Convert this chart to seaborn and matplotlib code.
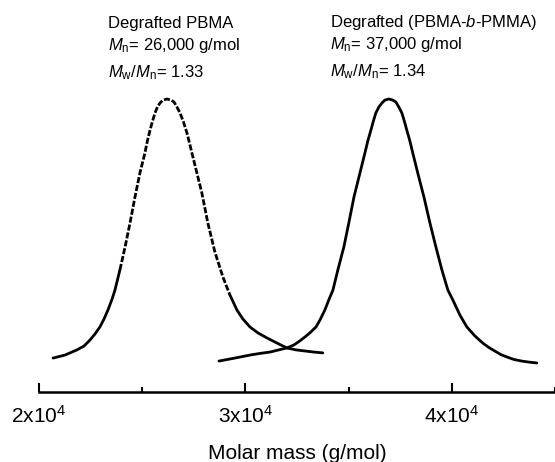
import matplotlib
matplotlib.use("Agg")
import matplotlib.pyplot as plt
import numpy as np
import pandas as pd
import seaborn as sns

# ---- data (molar mass in g/mol, normalised detector response) ----
pbma_mass = [20680, 21260, 21840, 22180, 22470, 22710, 22950, 23150, 23340, 23540,
             23680, 23920, 24170, 24410, 24650, 24890, 25130, 25250, 25380, 25500,
             25620, 25740, 25860, 26010, 26200, 26390, 26540, 26680, 26830, 27000,
             27170, 27290, 27410, 27650, 27890, 28180, 28520, 28910, 29250, 29590,
             29880, 30220, 30610, 31040, 31530, 32010, 32450, 32880, 33320, 33750]
pbma_signal = [0.051, 0.062, 0.081, 0.095, 0.117, 0.139, 0.165, 0.194, 0.227, 0.267,
               0.300, 0.374, 0.458, 0.546, 0.641, 0.729, 0.802, 0.846, 0.886, 0.919,
               0.949, 0.971, 0.985, 0.996, 1.000, 0.996, 0.989, 0.971, 0.949, 0.916,
               0.875, 0.839, 0.802, 0.729, 0.656, 0.546, 0.440, 0.348, 0.282, 0.227,
               0.194, 0.165, 0.143, 0.125, 0.106, 0.088, 0.081, 0.077, 0.073, 0.070]

block_mass = [28720, 29490, 30220, 30700, 31190, 31620, 32010, 32350, 32640, 32880,
              33120, 33420, 33610, 33850, 34040, 34240, 34480, 34770, 35010, 35260,
              35550, 35790, 35930, 36080, 36200, 36320, 36470, 36610, 36760, 36950,
              37140, 37290, 37430, 37580, 37700, 37820, 37970, 38110, 38350, 38650,
              38940, 39230, 39520, 39810, 40050, 40390, 40730, 41120, 41500, 41790,
              42080, 42370, 42670, 43000, 43390, 43760, 44120]
block_signal = [0.040, 0.051, 0.062, 0.068, 0.073, 0.081, 0.088, 0.099, 0.114, 0.128,
                0.143, 0.165, 0.190, 0.227, 0.264, 0.300, 0.374, 0.458, 0.546, 0.641,
                0.729, 0.802, 0.846, 0.886, 0.919, 0.949, 0.971, 0.985, 0.996, 1.000,
                0.996, 0.989, 0.971, 0.949, 0.919, 0.886, 0.846, 0.802, 0.729, 0.641,
                0.546, 0.458, 0.374, 0.300, 0.264, 0.209, 0.165, 0.132, 0.106, 0.090,
                0.077, 0.064, 0.055, 0.046, 0.040, 0.036, 0.033]

major_ticks = [20000, 30000, 40000]
minor_ticks = [25000, 35000, 45000]
tick_labels = [r"2x10$^{4}$", r"3x10$^{4}$", r"4x10$^{4}$"]
x_label = "Molar mass (g/mol)"

left_title = "Degrafted PBMA"
left_mn = r"$M_{\mathrm{n}}$= 26,000 g/mol"
left_pdi = r"$M_{\mathrm{w}}/M_{\mathrm{n}}$= 1.33"
right_title = r"Degrafted (PBMA-$b$-PMMA)"
right_mn = r"$M_{\mathrm{n}}$= 37,000 g/mol"
right_pdi = r"$M_{\mathrm{w}}/M_{\mathrm{n}}$= 1.34"

# ---- style ----
sns.set_style("white")
plt.rcParams["font.family"] = ["Liberation Sans", "DejaVu Sans"]
plt.rcParams["mathtext.fontset"] = "custom"
plt.rcParams["mathtext.rm"] = "Liberation Sans"
plt.rcParams["mathtext.it"] = "Liberation Sans:italic"
plt.rcParams["mathtext.bf"] = "Liberation Sans:bold"

W, H = 555, 462
fig = plt.figure(figsize=(W / 100, H / 100), dpi=100)
ax = fig.add_axes([39 / W, 70 / H, 516 / W, 312 / H])

pbma = pd.DataFrame({"mass": pbma_mass, "signal": pbma_signal})
block = pd.DataFrame({"mass": block_mass, "signal": block_signal})

lw = 2.0
dash = (0, (2.2, 0.7))
d0, d1 = 11, 38  # portion of the PBMA trace that appears dashed in the figure
common = dict(x="mass", y="signal", ax=ax, color="black", lw=lw, sort=False,
              estimator=None)
sns.lineplot(data=pbma.iloc[:d0 + 1], solid_capstyle="round", **common)
sns.lineplot(data=pbma.iloc[d0:d1 + 1], linestyle=dash, **common)
sns.lineplot(data=pbma.iloc[d1:], solid_capstyle="round", **common)
sns.lineplot(data=block, solid_capstyle="round", **common)

ax.set_xlim(20000, 45000)
ax.set_ylim(-0.0733, 1.0696)
ax.set_yticks([])
ax.set_ylabel("")
for s in ["top", "left", "right"]:
    ax.spines[s].set_visible(False)
ax.spines["bottom"].set_color("black")
ax.spines["bottom"].set_linewidth(1.8)

ax.set_xticks(major_ticks)
ax.set_xticklabels(tick_labels)
ax.set_xticks(minor_ticks, minor=True)
ax.tick_params(axis="x", which="major", bottom=True, direction="in", length=6.5,
               width=1.5, colors="black", pad=9, labelsize=15)
ax.tick_params(axis="x", which="minor", bottom=True, direction="in", length=3.5,
               width=1.5, colors="black")
ax.set_xlabel(x_label, fontsize=15, labelpad=13, color="black")

def ftext(px, py, s):
    fig.text(px / W, 1 - py / H, s, fontsize=12, va="baseline", ha="left", color="black")

ftext(108, 28, left_title)
ftext(108, 50, left_mn)
ftext(108, 77, left_pdi)
ftext(330, 27, right_title)
ftext(330, 49, right_mn)
ftext(330, 76, right_pdi)

fig.savefig("out.png", dpi=100)
